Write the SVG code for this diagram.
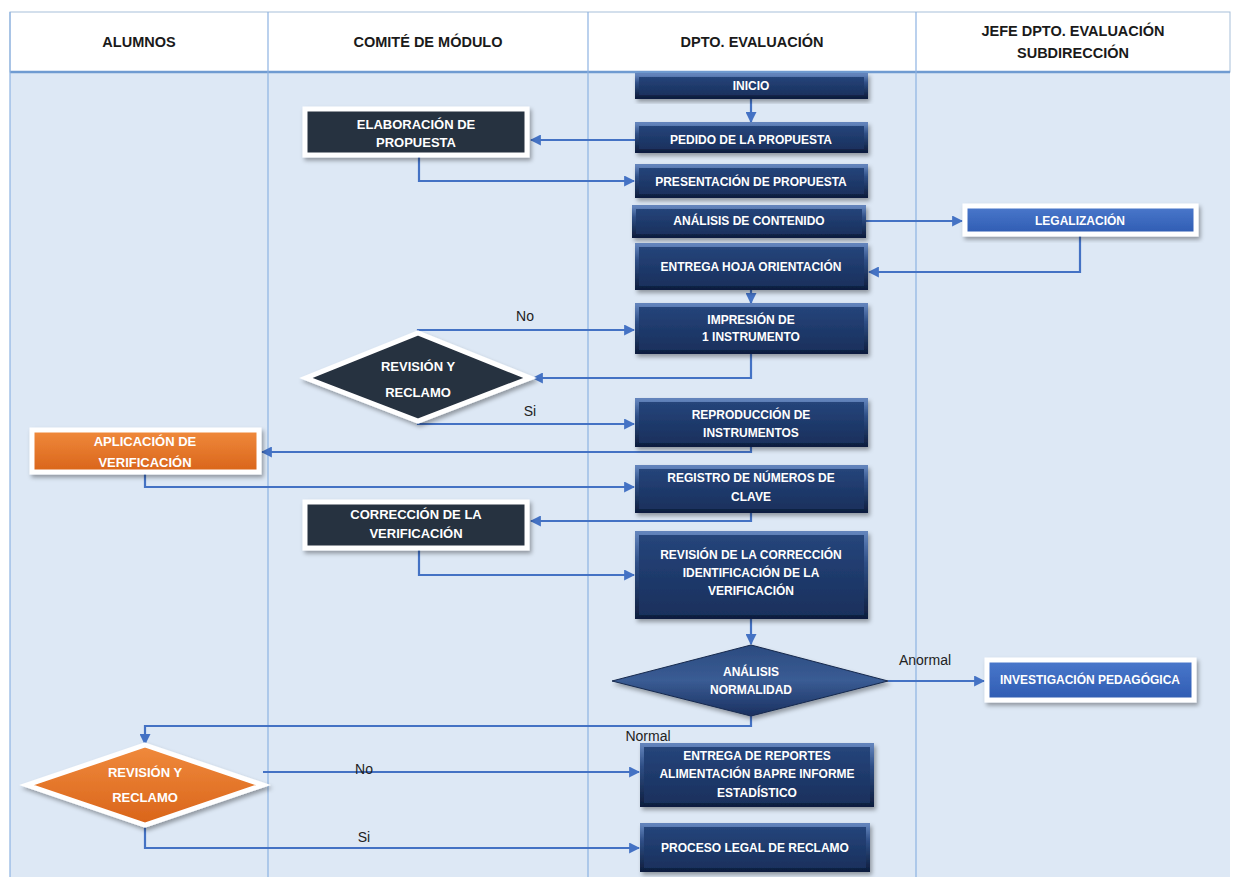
<svg xmlns="http://www.w3.org/2000/svg" width="1233" height="877" viewBox="0 0 1233 877">
<defs>
<linearGradient id="navy" x1="0" y1="0" x2="0" y2="1">
<stop offset="0" stop-color="#26467c"/>
<stop offset="0.5" stop-color="#1f3a6c"/>
<stop offset="1" stop-color="#19305c"/>
</linearGradient>
<linearGradient id="bevel" x1="0" y1="0" x2="0" y2="1">
<stop offset="0" stop-color="#6283bb"/>
<stop offset="0.35" stop-color="#2f4f86"/>
<stop offset="1" stop-color="#0f1f40"/>
</linearGradient>
<linearGradient id="navyD" x1="0" y1="0" x2="0" y2="1">
<stop offset="0" stop-color="#2b4b80"/>
<stop offset="0.5" stop-color="#3a5c94"/>
<stop offset="1" stop-color="#1a3060"/>
</linearGradient>
<linearGradient id="orange" x1="0" y1="0" x2="0" y2="1">
<stop offset="0" stop-color="#f08a3c"/>
<stop offset="1" stop-color="#d9641a"/>
</linearGradient>
<linearGradient id="blue" x1="0" y1="0" x2="0" y2="1">
<stop offset="0" stop-color="#4a78cc"/>
<stop offset="1" stop-color="#2f5cb2"/>
</linearGradient>
<filter id="sh" x="-10%" y="-20%" width="125%" height="150%">
<feDropShadow dx="2" dy="3" stdDeviation="2" flood-color="#000" flood-opacity="0.35"/>
</filter>
<marker id="ar" viewBox="0 0 10 10" refX="9" refY="5" markerWidth="5" markerHeight="5" orient="auto">
<path d="M0,0 L10,5 L0,10 z" fill="#4472c4"/>
</marker>
<style>
.hd{font-family:"Liberation Sans",Arial,sans-serif;font-weight:bold;font-size:14.5px;fill:#1a1a1a;text-anchor:middle}
.nt{font-family:"Liberation Sans",Arial,sans-serif;font-weight:bold;font-size:12px;fill:#ffffff;text-anchor:middle}
.bt{font-family:"Liberation Sans",Arial,sans-serif;font-weight:bold;font-size:13px;fill:#ffffff;text-anchor:middle}
.lb{font-family:"Liberation Sans",Arial,sans-serif;font-size:14px;fill:#222;text-anchor:middle}
.nv{fill:url(#navy);stroke:url(#bevel);stroke-width:4;filter:url(#sh)}
.dk{fill:#27313f;stroke:#ffffff;stroke-width:5;filter:url(#sh)}
.or{fill:url(#orange);stroke:#ffffff;stroke-width:5;filter:url(#sh)}
.bl{fill:url(#blue);stroke:#ffffff;stroke-width:5;filter:url(#sh)}
.cn{fill:none;stroke:#4472c4;stroke-width:2.2}
.ln{stroke:#8db3e2;stroke-width:1.2}
</style>
</defs>
<g id="background">
<rect x="0" y="0" width="1233" height="877" fill="#ffffff"/>
<rect x="10" y="12" width="1220" height="60" fill="#ffffff" stroke="#a7bfd9" stroke-width="1"/>
<rect x="10" y="72" width="1220" height="805" fill="#dde8f5"/>
<line x1="10" y1="72" x2="1230" y2="72" stroke="#6f9bd1" stroke-width="2.5"/>
<line class="ln" x1="10" y1="12" x2="10" y2="877"/>
<line class="ln" x1="268" y1="12" x2="268" y2="877"/>
<line class="ln" x1="588" y1="12" x2="588" y2="877"/>
<line class="ln" x1="916" y1="12" x2="916" y2="877"/>
<text class="hd" x="139" y="47">ALUMNOS</text>
<text class="hd" x="428" y="47">COMITÉ DE MÓDULO</text>
<text class="hd" x="752" y="47">DPTO. EVALUACIÓN</text>
<text class="hd" x="1073" y="36">JEFE DPTO. EVALUACIÓN</text>
<text class="hd" x="1073" y="58">SUBDIRECCIÓN</text>
</g>
<g id="connectors">
<path class="cn" d="M751,97 V122" marker-end="url(#ar)"/>
<path class="cn" d="M635,140 H531" marker-end="url(#ar)"/>
<path class="cn" d="M419,157 V181 H634" marker-end="url(#ar)"/>
<path class="cn" d="M866,221 H962" marker-end="url(#ar)"/>
<path class="cn" d="M1080,235 V272 H869" marker-end="url(#ar)"/>
<path class="cn" d="M751,290 V303" marker-end="url(#ar)"/>
<path class="cn" d="M751,354 V378 H533" marker-end="url(#ar)"/>
<path class="cn" d="M418,333 V330 H634" marker-end="url(#ar)"/>
<path class="cn" d="M418,421 V424 H634" marker-end="url(#ar)"/>
<path class="cn" d="M751,447 V452 H262" marker-end="url(#ar)"/>
<path class="cn" d="M145,473 V487 H634" marker-end="url(#ar)"/>
<path class="cn" d="M751,513 V521 H531" marker-end="url(#ar)"/>
<path class="cn" d="M419,549 V575 H634" marker-end="url(#ar)"/>
<path class="cn" d="M751,619 V644" marker-end="url(#ar)"/>
<path class="cn" d="M888,681 H984" marker-end="url(#ar)"/>
<path class="cn" d="M751,716 V726 H145 V744" marker-end="url(#ar)"/>
<path class="cn" d="M263,772 H639" marker-end="url(#ar)"/>
<path class="cn" d="M145,825 V848 H639" marker-end="url(#ar)"/>
<text class="lb" x="525" y="321">No</text>
<text class="lb" x="530" y="416">Si</text>
<text class="lb" x="925" y="665">Anormal</text>
<text class="lb" x="648" y="741">Normal</text>
<text class="lb" x="364" y="774">No</text>
<text class="lb" x="364" y="842">Si</text>
</g>
<g id="n-inicio"><rect class="nv" x="637" y="75" width="229" height="22"/><text class="nt" x="751" y="90">INICIO</text></g>
<g id="n-pedido"><rect class="nv" x="637" y="124" width="229" height="27"/><text class="nt" x="751" y="144">PEDIDO DE LA PROPUESTA</text></g>
<g id="n-presentacion"><rect class="nv" x="637" y="166" width="229" height="30"/><text class="nt" x="751" y="186">PRESENTACIÓN DE PROPUESTA</text></g>
<g id="n-analisis-contenido"><rect class="nv" x="634" y="207" width="230" height="29"/><text class="nt" x="749" y="225">ANÁLISIS DE CONTENIDO</text></g>
<g id="n-entrega-hoja"><rect class="nv" x="637" y="245" width="229" height="43"/><text class="nt" x="751" y="271">ENTREGA HOJA ORIENTACIÓN</text></g>
<g id="n-impresion"><rect class="nv" x="637" y="305" width="229" height="47"/><text class="nt" x="751" y="324">IMPRESIÓN DE</text><text class="nt" x="751" y="341">1 INSTRUMENTO</text></g>
<g id="n-reproduccion"><rect class="nv" x="637" y="400" width="229" height="45"/><text class="nt" x="751" y="419">REPRODUCCIÓN DE</text><text class="nt" x="751" y="437">INSTRUMENTOS</text></g>
<g id="n-registro"><rect class="nv" x="637" y="467" width="229" height="44"/><text class="nt" x="751" y="482">REGISTRO DE NÚMEROS DE</text><text class="nt" x="751" y="501">CLAVE</text></g>
<g id="n-revision-correccion"><rect class="nv" x="637" y="533" width="229" height="84"/><text class="nt" x="751" y="559">REVISIÓN DE LA CORRECCIÓN</text><text class="nt" x="751" y="577">IDENTIFICACIÓN DE LA</text><text class="nt" x="751" y="595">VERIFICACIÓN</text></g>
<g id="n-analisis-normalidad"><polygon points="751,645 888,681 751,716 612,681" fill="url(#navyD)" stroke="#16294d" stroke-width="1" filter="url(#sh)"/><text class="nt" x="751" y="676">ANÁLISIS</text><text class="nt" x="751" y="694">NORMALIDAD</text></g>
<g id="n-entrega-reportes"><rect class="nv" x="642" y="745" width="230" height="60"/><text class="nt" x="757" y="760">ENTREGA DE REPORTES</text><text class="nt" x="757" y="778">ALIMENTACIÓN BAPRE INFORME</text><text class="nt" x="757" y="797">ESTADÍSTICO</text></g>
<g id="n-proceso-legal"><rect class="nv" x="642" y="825" width="226" height="45"/><text class="nt" x="755" y="852">PROCESO LEGAL DE RECLAMO</text></g>
<g id="n-elaboracion"><rect class="dk" x="305" y="109" width="222" height="46"/><text class="bt" x="416" y="129">ELABORACIÓN  DE</text><text class="bt" x="416" y="147">PROPUESTA</text></g>
<g id="n-revision-comite"><polygon class="dk" points="418,333 530,378 418,421 306,378"/><text class="bt" x="418" y="371">REVISIÓN Y</text><text class="bt" x="418" y="397">RECLAMO</text></g>
<g id="n-correccion"><rect class="dk" x="305" y="502" width="222" height="46"/><text class="bt" x="416" y="519">CORRECCIÓN DE LA</text><text class="bt" x="416" y="538">VERIFICACIÓN</text></g>
<g id="n-aplicacion"><rect class="or" x="32" y="430" width="227" height="42"/><text class="bt" x="145" y="446">APLICACIÓN  DE</text><text class="bt" x="145" y="467">VERIFICACIÓN</text></g>
<g id="n-revision-alumnos"><polygon class="or" points="145,745 263,785 145,825 27,785"/><text class="bt" x="145" y="777">REVISIÓN Y</text><text class="bt" x="145" y="802">RECLAMO</text></g>
<g id="n-legalizacion"><rect class="bl" x="965" y="206" width="231" height="28"/><text class="nt" x="1080" y="225">LEGALIZACIÓN</text></g>
<g id="n-investigacion"><rect class="bl" x="987" y="660" width="207" height="40"/><text class="nt" x="1090" y="684">INVESTIGACIÓN PEDAGÓGICA</text></g>
</svg>
